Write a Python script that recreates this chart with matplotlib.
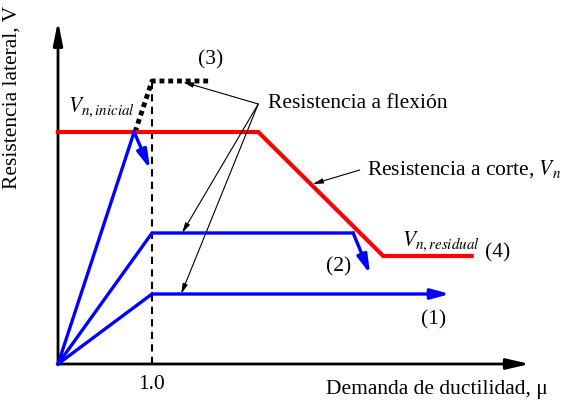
import matplotlib
matplotlib.use('Agg')
import matplotlib.pyplot as plt

plt.rcParams['font.family'] = ['Liberation Serif', 'DejaVu Serif']
plt.rcParams['mathtext.fontset'] = 'stix'

# Idealised lateral strength vs. ductility demand curves
mu_yield = 1.0

# Shear strength envelope (4)
shear_mu = [0.0, 2.13, 3.46, 4.40]
shear_V = [2.32, 2.32, 1.08, 1.08]

# Flexural curve (1): stays ductile
flex1_mu = [0.0, 1.0, 4.17]
flex1_V = [0.0, 0.70, 0.70]

# Flexural curve (2): reaches shear envelope after yielding
flex2_mu = [0.0, 1.0, 3.14, 3.32]
flex2_V = [0.0, 1.31, 1.31, 0.90]

# Flexural curve (3): shear failure before yielding
flex3_mu = [0.0, 0.81, 0.98]
flex3_V = [0.0, 2.32, 1.95]
flex3_ideal_mu = [0.82, 1.0, 1.60]
flex3_ideal_V = [2.32, 2.83, 2.83]

BLUE = '#0000ff'
RED = '#ff0000'

fig = plt.figure(figsize=(5.66, 4.06), dpi=100)
ax = fig.add_axes([0, 0, 1, 1])
ax.set_xlim(-0.617, 5.404)
ax.set_ylim(-0.41, 3.65)
ax.axis('off')

# axes with arrow heads
ax.annotate('', xy=(5.02, 0), xytext=(0, 0),
            arrowprops=dict(arrowstyle='-|>,head_length=1.4,head_width=0.32',
                            color='black', lw=2, shrinkA=0, shrinkB=0))
ax.annotate('', xy=(0, 3.43), xytext=(0, 0),
            arrowprops=dict(arrowstyle='-|>,head_length=1.4,head_width=0.28',
                            color='black', lw=2, shrinkA=0, shrinkB=0))

# yield line
ax.plot([mu_yield, mu_yield], [0, flex3_ideal_V[-1]], color='black',
        lw=1.5, ls=(0, (3.5, 2.5)), zorder=2)

ax.plot(shear_mu, shear_V, color=RED, lw=3, zorder=3, solid_joinstyle='miter')
ax.plot(flex3_ideal_mu, flex3_ideal_V, color='black', lw=3.5,
        ls=(0, (1.0, 0.8)), zorder=2)


def blue_curve(mu, V):
    ax.plot(mu[:-1], V[:-1], color=BLUE, lw=2.4, zorder=4, solid_joinstyle='miter')
    ax.annotate('', xy=(mu[-1], V[-1]), xytext=(mu[-2], V[-2]),
                arrowprops=dict(arrowstyle='-|>,head_length=1.1,head_width=0.3',
                                color=BLUE, lw=2.4, shrinkA=0, shrinkB=0),
                zorder=4)


blue_curve(flex1_mu, flex1_V)
blue_curve(flex2_mu, flex2_V)
blue_curve(flex3_mu, flex3_V)

fs = 15.5
ax.text(1.62, 3.05, '(3)', fontsize=fs, ha='center', va='center')
ax.text(0.106, 2.58, r'$V_{n,inicial}$', fontsize=fs, ha='left', va='center')
ax.text(2.23, 2.61, 'Resistencia a flexión', fontsize=fs, ha='left', va='center')
for target in [(1.33, 2.82), (1.32, 1.31), (1.31, 0.70)]:
    ax.annotate('', xy=target, xytext=(2.13, 2.60),
                arrowprops=dict(arrowstyle='-|>,head_length=0.6,head_width=0.15',
                                color='black', lw=0.8, shrinkA=0, shrinkB=0))
ax.text(3.29, 1.96, r'Resistencia a corte, $V_n$', fontsize=fs,
        ha='left', va='center')
ax.annotate('', xy=(2.71, 1.80), xytext=(3.21, 1.94),
            arrowprops=dict(arrowstyle='-|>,head_length=0.6,head_width=0.15',
                            color='black', lw=0.8, shrinkA=0, shrinkB=0))
ax.text(3.66, 1.24, r'$V_{n,residual}$', fontsize=fs, ha='left', va='center')
ax.text(4.54, 1.12, '(4)', fontsize=fs, ha='left', va='center')
ax.text(2.98, 0.98, '(2)', fontsize=fs, ha='center', va='center')
ax.text(3.99, 0.45, '(1)', fontsize=fs, ha='center', va='center')
ax.text(mu_yield, -0.20, '1.0', fontsize=fs, ha='center', va='center')
ax.text(5.21, -0.25, 'Demanda de ductilidad, μ', fontsize=fs,
        ha='right', va='center')
ax.text(-0.49, 2.68, 'Resistencia lateral, V', fontsize=fs,
        ha='center', va='center', rotation=90)

fig.savefig('out.png', dpi=100)
